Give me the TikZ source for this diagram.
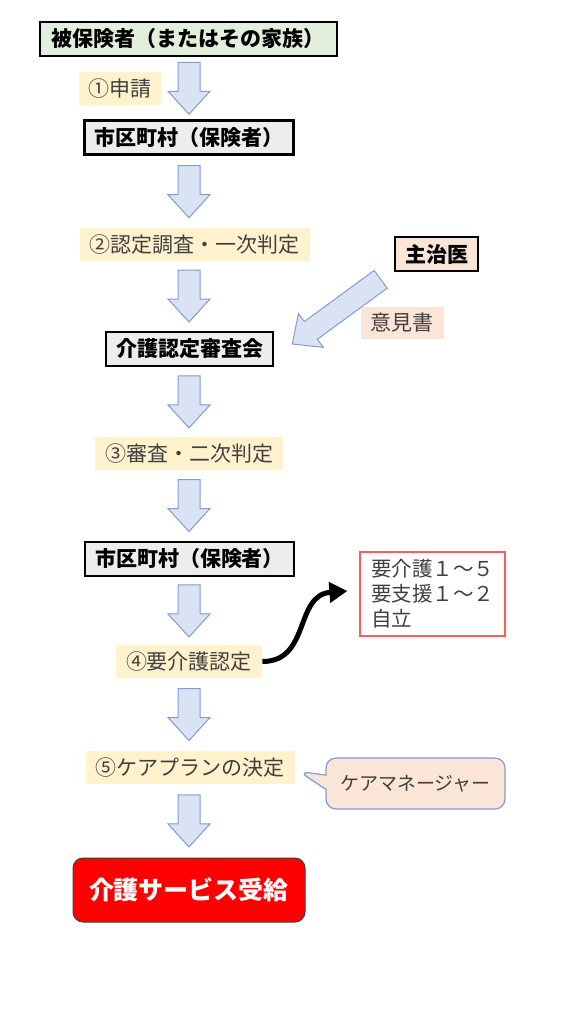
\documentclass[tikz,border=0pt]{standalone}
\usepackage{fontspec}
\setmainfont{Noto Sans CJK JP}
\usetikzlibrary{arrows.meta,calc,positioning,shapes.callouts}

\definecolor{boxgreen}{HTML}{E2EFDA}
\definecolor{boxgray}{HTML}{EDEDED}
\definecolor{labelyellow}{HTML}{FFF2CC}
\definecolor{peach}{HTML}{FBE5D6}
\definecolor{arrowfill}{HTML}{DAE3F3}
\definecolor{arrowline}{HTML}{7F9DD0}
\definecolor{levelred}{HTML}{FF5B5B}
\definecolor{textgray}{HTML}{404040}

\tikzset{
  mainbox/.style={draw, line width=1.3pt, fill=boxgray, inner xsep=5pt, minimum height=17pt,
    font=\bfseries\fontsize{10.5}{12}\selectfont},
  steplabel/.style={fill=labelyellow, text=textgray, inner xsep=5pt, minimum height=16.5pt,
    font=\fontsize{10.5}{12}\selectfont},
  blockarrow/.style={fill=arrowfill, draw=arrowline, line width=0.5pt, line join=miter},
  servicebox/.style={draw=black!75, fill=red, text=white, rounded corners=5pt, line width=0.5pt,
    minimum width=116pt, minimum height=32pt, font=\bfseries\fontsize{12.5}{14}\selectfont},
  levelbox/.style={draw=levelred, line width=0.6pt, fill=white, text=textgray, align=left,
    minimum width=72.5pt, minimum height=42pt, font=\fontsize{10.25}{12.5}\selectfont},
  managercallout/.style={rectangle callout, draw=arrowline, fill=peach, text=textgray, rounded corners=5pt,
    line width=0.6pt, minimum width=89.5pt, minimum height=25.5pt, font=\fontsize{9.5}{11}\selectfont},
  bendarrow/.style={line width=2.5pt, -{Triangle[length=9pt,width=10pt]}}
}

\newcommand\blockarrow[2]{%
  \coordinate (ba-s) at (#1);
  \coordinate (ba-e) at (#2);
  \coordinate (ba-h) at ($(ba-e)!11.5pt!(ba-s)$);
  \draw[blockarrow] ($(ba-s)!5.5pt!90:(ba-e)$) -- ($(ba-h)!5.5pt!90:(ba-e)$)
    -- ($(ba-h)!10.5pt!90:(ba-e)$) -- (ba-e) -- ($(ba-h)!10.5pt!-90:(ba-e)$)
    -- ($(ba-h)!5.5pt!-90:(ba-e)$) -- ($(ba-s)!5.5pt!-90:(ba-e)$) -- cycle;}

\newcommand\flowarrow[2]{%
  \coordinate (fa-mid) at ($(#1.south -| axis)!0.5!(#2.north -| axis)$);
  \blockarrow{$(fa-mid)+(0,-26)$}{$(fa-mid)+(0,26)$}}

\begin{document}
\begin{tikzpicture}[x=0.5pt,y=-0.5pt]
  \useasboundingbox (0,0) rectangle (576,1024);
  \coordinate (axis) at (189,0);

  \node[mainbox, fill=boxgreen, inner xsep=6pt] (insured) at (188.5,39) {被保険者（またはその家族）};
  \node[steplabel] (apply) at (120,88.5) {①申請};
  \node[mainbox] (city1) at (189,137.5) {市区町村（保険者）};
  \node[steplabel] (survey) at (195,244.5) {②認定調査・一次判定};
  \node[mainbox] (board) at (189.5,349) {介護認定審査会};
  \node[steplabel] (review) at (189,453.5) {③審査・二次判定};
  \node[mainbox] (city2) at (189.5,559) {市区町村（保険者）};
  \node[steplabel] (cert) at (189,661.5) {④要介護認定};
  \node[steplabel] (plan) at (190,767.5) {⑤ケアプランの決定};
  \node[servicebox] (service) at (189,890) {介護サービス受給};

  \node[mainbox, fill=peach] (doctor) at (436.5,254) {主治医};
  \node[steplabel, fill=peach, minimum height=16pt] (opinion) at (402,323) {意見書};
  \node[levelbox] (levels) at (432.5,594) {要介護１～５\\要支援１～２\\自立};
  \node[managercallout, callout absolute pointer={($(plan.east)+(4,4)$)}] (manager) at (415.5,783.5) {ケアマネージャー};

  \flowarrow{insured}{city1}
  \flowarrow{city1}{survey}
  \flowarrow{survey}{board}
  \flowarrow{board}{review}
  \flowarrow{review}{city2}
  \flowarrow{city2}{cert}
  \flowarrow{cert}{plan}
  \flowarrow{plan}{service}
  \blockarrow{$(doctor.south west)+(-13,7)$}{$(board.east)+(18,-5)$}

  \coordinate (levels-in) at ($(levels.west)+(-12,-3)$);
  \draw[bendarrow] (cert.east) .. controls +(48,0) and +(-53,4) .. (levels-in);
\end{tikzpicture}
\end{document}
